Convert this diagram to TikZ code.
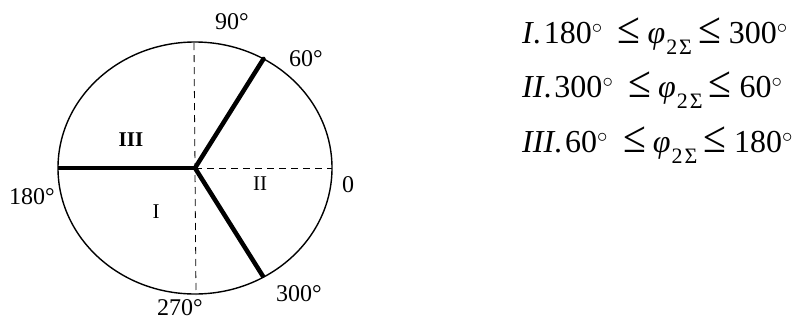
\documentclass[tikz,border=0pt]{standalone}
\usepackage{fontspec}
\usepackage{graphicx}
\setmainfont{Liberation Serif}
\tikzset{
  rim/.style={line width=1.4pt},
  bound/.style={line width=4.5pt},
  axis/.style={line width=0.8pt, dash pattern=on 7pt off 5pt},
  deg/.style={font=\fontsize{24}{24}\selectfont, inner sep=0pt},
  zone/.style={font=\fontsize{21}{21}\selectfont, inner sep=0pt},
  eq/.style={font=\fontsize{32}{32}\selectfont, inner sep=0pt, anchor=base west}
}
\newcommand{\dg}{\textsuperscript{$\circ$}}
\newcommand{\bigle}{\scalebox{1.3}[1.4]{≤}}
\newcommand{\leA}{\hspace{15pt}\bigle\hspace{7pt}}
\newcommand{\leB}{\hspace{6pt}\bigle\hspace{8pt}}
\newcommand{\phisub}{{\itshape φ}\hspace{1pt}\raisebox{-11pt}{\fontsize{22}{22}\selectfont 2\hspace{2pt}Σ}}
\begin{document}
\begin{tikzpicture}[x=1pt,y=-1pt]
\useasboundingbox (0,0) rectangle (808,322);
\coordinate (O) at (195,168);
\coordinate (top) at (194,43);
\coordinate (bot) at (196,295);
\coordinate (right) at (332,168);
\coordinate (left) at (58,168);
\coordinate (p60) at (263.5,58.9);
\coordinate (p300) at (263.5,277.1);
\draw[axis] (top) -- (bot);
\draw[axis] (O) -- (right);
\draw[rim] (O) ellipse [x radius=137pt, y radius=126pt];
\draw[bound] (left) -- (O);
\draw[bound, line cap=round] (O) -- (p60);
\draw[bound] (O) -- (p300);
\node[deg] (l90) at (232,22) {90°};
\node[deg] (l60) at (306,59) {60°};
\node[deg] (l180) at (32,197) {180°};
\node[deg] (l0) at (348,185) {0};
\node[deg] (l270) at (180,308) {270°};
\node[deg] (l300) at (299,294) {300°};
\node[zone, font=\fontsize{21}{21}\selectfont\bfseries] (z3) at (131,140) {III};
\node[zone] (z2) at (260,184) {II};
\node[zone] (z1) at (156,212) {I};
\node[eq] (e1) at (522,43) {\textit{I}.\hspace{3pt}180\dg\leA\phisub\leB300\dg};
\node[eq] (e2) at (522,97) {\textit{II}.\hspace{3pt}300\dg\leA\phisub\leB60\dg};
\node[eq] (e3) at (522,152) {\textit{III}.\hspace{3pt}60\dg\leA\phisub\leB180\dg};
\end{tikzpicture}
\end{document}
